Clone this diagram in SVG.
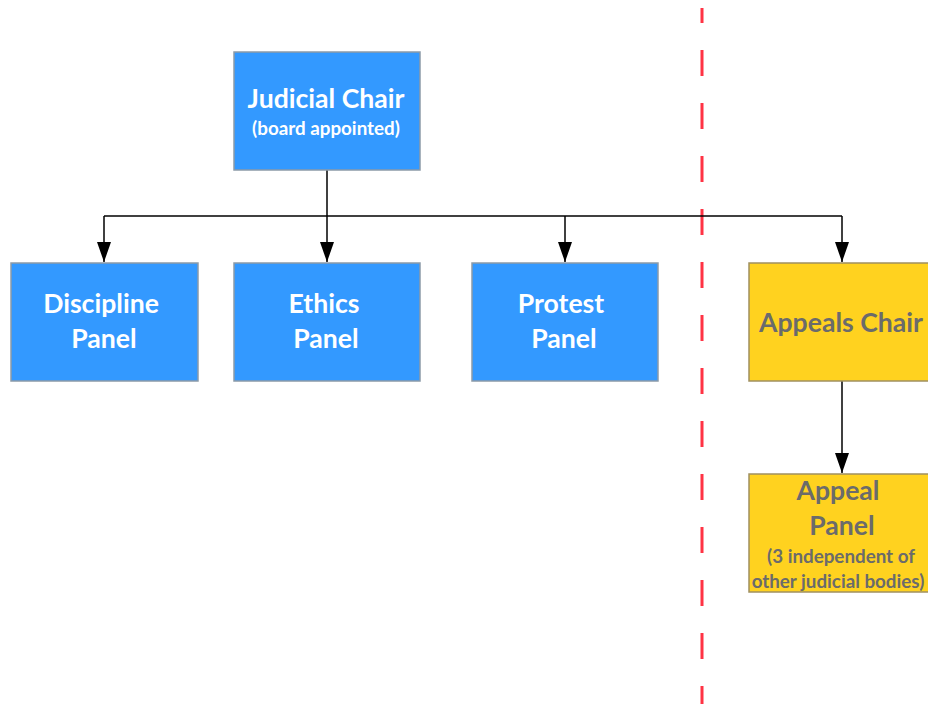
<svg xmlns="http://www.w3.org/2000/svg" width="928" height="704" viewBox="0 0 928 704">
<style>
.blue{fill:#3399FF;stroke:#8c9aa8;stroke-width:1.5}
.yel{fill:#FFD21F;stroke:#a09060;stroke-width:1.5}
.t{font-family:Lato,"Open Sans","Liberation Sans",sans-serif;font-weight:bold;text-anchor:middle}
.w{fill:#ffffff}
.g{fill:#6b6b6b}
.big{font-size:26.6px}
.small{font-size:18.8px}
.conn{fill:none;stroke:#000;stroke-width:1.5}
</style>
<defs>
<marker id="arr" markerWidth="20" markerHeight="14" refX="20" refY="7" orient="auto" markerUnits="userSpaceOnUse" viewBox="0 0 20 14">
<path d="M0,0 L20,7 L0,14 Z" fill="#000"/>
</marker>
</defs>
<line x1="702" y1="8" x2="702" y2="704" stroke="#FF3344" stroke-width="3" stroke-dasharray="26 27" stroke-dashoffset="11"/>
<g id="connectors">
<path class="conn" d="M327,170 V216"/>
<path class="conn" d="M104,216 H842"/>
<path class="conn" d="M104,216 V262" marker-end="url(#arr)"/>
<path class="conn" d="M327,216 V262" marker-end="url(#arr)"/>
<path class="conn" d="M565,216 V262" marker-end="url(#arr)"/>
<path class="conn" d="M842,216 V262" marker-end="url(#arr)"/>
<path class="conn" d="M842,381 V473" marker-end="url(#arr)"/>
</g>
<g id="judicial-chair">
<rect class="blue" x="234" y="52" width="186" height="118"/>
<text class="t w big" x="326" y="108">Judicial Chair</text>
<text class="t w small" x="326" y="135">(board appointed)</text>
</g>
<g id="discipline-panel">
<rect class="blue" x="11" y="263" width="187" height="118"/>
<text class="t w big" x="101" y="313">Discipline</text>
<text class="t w big" x="104" y="348">Panel</text>
</g>
<g id="ethics-panel">
<rect class="blue" x="234" y="263" width="186" height="118"/>
<text class="t w big" x="324" y="313">Ethics</text>
<text class="t w big" x="326" y="348">Panel</text>
</g>
<g id="protest-panel">
<rect class="blue" x="472" y="263" width="186" height="118"/>
<text class="t w big" x="561" y="313">Protest</text>
<text class="t w big" x="564" y="348">Panel</text>
</g>
<g id="appeals-chair">
<rect class="yel" x="749" y="263" width="187" height="118"/>
<text class="t g big" x="841" y="332">Appeals Chair</text>
</g>
<g id="appeal-panel">
<rect class="yel" x="749" y="474" width="187" height="118"/>
<text class="t g big" x="838" y="500">Appeal</text>
<text class="t g big" x="842" y="535">Panel</text>
<text class="t g small" x="841" y="563">(3 independent of</text>
<text class="t g small" x="838" y="588">other judicial bodies)</text>
</g>
</svg>
